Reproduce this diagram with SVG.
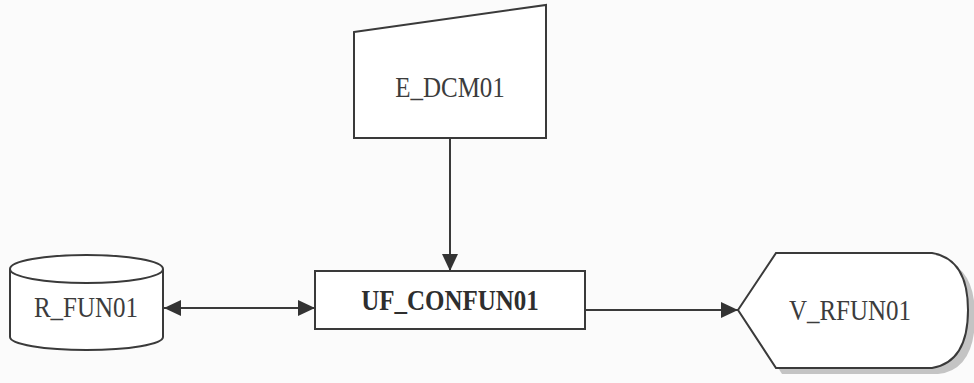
<svg xmlns="http://www.w3.org/2000/svg" width="974" height="383" viewBox="0 0 974 383">
<defs>
<style>
.shape{fill:#ffffff;stroke:#3a3a3a;stroke-width:2}
.lbl{font-family:"Liberation Serif","Times New Roman",serif;font-size:25px;fill:#3c3c3c;text-anchor:middle}
.bold{font-weight:bold;fill:#2e2e2e}
.conn{stroke:#3a3a3a;stroke-width:2;fill:none}
</style>
<marker id="ah" viewBox="0 0 17 16" refX="17" refY="8" markerWidth="17" markerHeight="16" markerUnits="userSpaceOnUse" orient="auto-start-reverse">
<path d="M0,0 L17,8 L0,16 Z" fill="#333333"/>
</marker>
</defs>
<rect width="974" height="383" fill="#fbfbfb"/>
<g id="connectors">
<line class="conn" x1="450" y1="138" x2="450" y2="271" marker-end="url(#ah)"/>
<line class="conn" x1="164" y1="308" x2="315" y2="308" marker-start="url(#ah)" marker-end="url(#ah)"/>
<line class="conn" x1="585" y1="310" x2="738" y2="310" marker-end="url(#ah)"/>
</g>
<g id="E_DCM01">
<path class="shape" d="M354,32 L546,5 L546,138 L354,138 Z"/>
<text class="lbl" transform="translate(450,97) scale(1,1.15)">E_DCM01</text>
</g>
<g id="UF_CONFUN01">
<rect class="shape" x="315" y="271" width="270" height="58"/>
<text class="lbl bold" transform="translate(450,310) scale(1,1.15)">UF_CONFUN01</text>
</g>
<g id="R_FUN01">
<path class="shape" d="M10,269 L10,337 A76.5,13 0 0 0 163,337 L163,269 A76.5,14 0 0 0 10,269 Z"/>
<path class="shape" fill="none" d="M10,269 A76.5,14 0 0 0 163,269"/>
<text class="lbl" transform="translate(86,317) scale(1,1.15)">R_FUN01</text>
</g>
<g id="V_RFUN01">
<path d="M744,315 L782,259 L938,259 Q975,265 975,316 Q975,370 938,374 L782,374 Z" fill="#c4c4c4"/>
<path class="shape" d="M738,310 L776,253 L932,253 Q968,259 968,310 Q968,362 932,368 L776,368 Z"/>
<text class="lbl" transform="translate(850,320) scale(1,1.15)">V_RFUN01</text>
</g>
</svg>
